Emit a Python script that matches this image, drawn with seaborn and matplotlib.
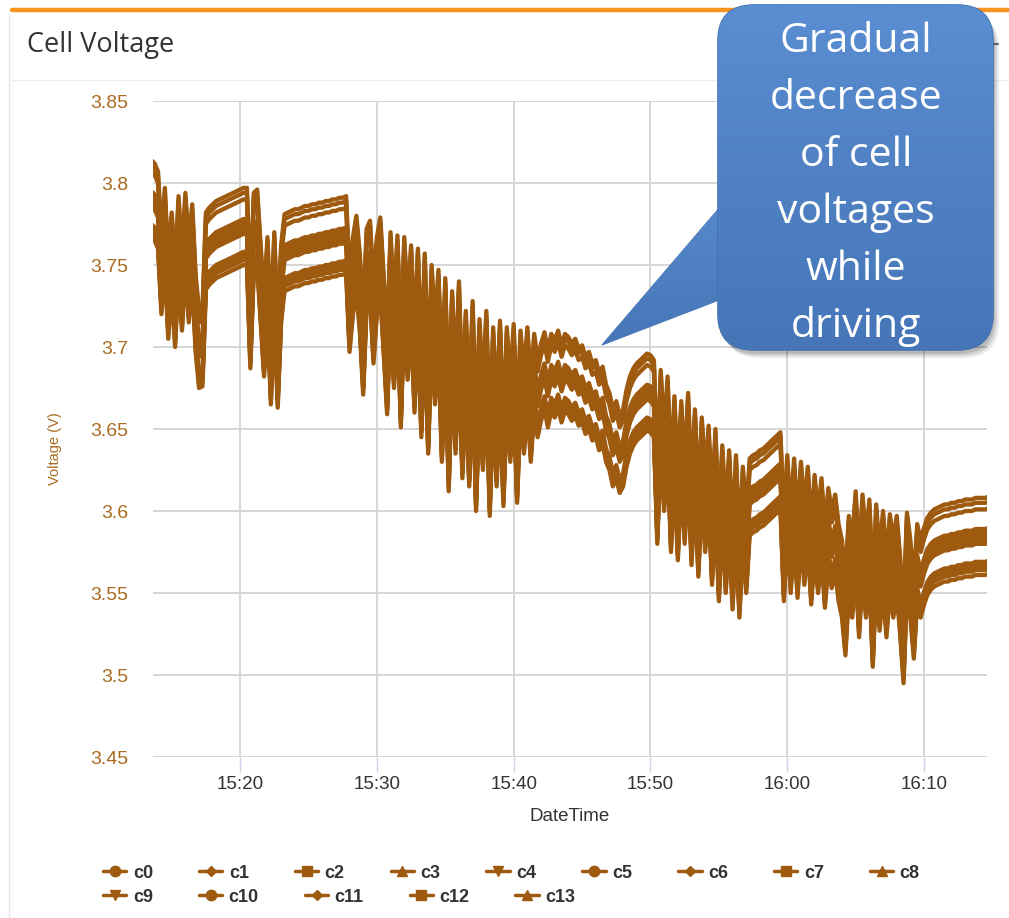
import matplotlib

matplotlib.use("Agg")
import matplotlib.pyplot as plt
from matplotlib.colors import LinearSegmentedColormap
from matplotlib.lines import Line2D
from matplotlib.patches import FancyBboxPatch, Polygon
import numpy as np
import pandas as pd
import seaborn as sns


DAY = "2021-01-01 "
START = DAY + "15:13:30"
STEP = "15s"

CELLS = [f"c{i}" for i in range(14)]
# offset of each cell from the middle group, read at rest periods
CELL_OFFSETS = [0.022, -0.002, -0.022, 0.019, 0.001, -0.019, 0.015,
                -0.004, -0.025, 0.003, -0.006, -0.017, 0.000, -0.021]

# middle-group voltage every 15 s, one row per minute
BASE_VOLTAGE = [
    3.792, 3.790,                   # 15:13
    3.785, 3.745, 3.775, 3.730,     # 15:14
    3.760, 3.725, 3.770, 3.735,     # 15:15
    3.772, 3.740, 3.765, 3.722,     # 15:16
    3.700, 3.701, 3.760, 3.763,     # 15:17
    3.765, 3.767, 3.768, 3.769,     # 15:18
    3.770, 3.771, 3.772, 3.773,     # 15:19
    3.774, 3.775, 3.775, 3.712,     # 15:20
    3.772, 3.774, 3.740, 3.707,     # 15:21
    3.745, 3.690, 3.748, 3.688,     # 15:22
    3.740, 3.759, 3.760, 3.761,     # 15:23
    3.762, 3.762, 3.763, 3.764,     # 15:24
    3.764, 3.765, 3.765, 3.766,     # 15:25
    3.766, 3.767, 3.767, 3.768,     # 15:26
    3.768, 3.769, 3.769, 3.770,     # 15:27
    3.722, 3.745, 3.758, 3.735,     # 15:28
    3.696, 3.750, 3.755, 3.715,     # 15:29
    3.745, 3.757, 3.720, 3.684,     # 15:30
    3.748, 3.700, 3.746, 3.676,     # 15:31
    3.745, 3.705, 3.740, 3.685,     # 15:32
    3.738, 3.670, 3.735, 3.660,     # 15:33
    3.728, 3.690, 3.725, 3.655,     # 15:34
    3.720, 3.637, 3.712, 3.660,     # 15:35
    3.718, 3.645, 3.700, 3.640,     # 15:36
    3.706, 3.625, 3.695, 3.650,     # 15:37
    3.700, 3.622, 3.690, 3.640,     # 15:38
    3.694, 3.628, 3.690, 3.655,     # 15:39
    3.692, 3.630, 3.688, 3.660,     # 15:40
    3.690, 3.655, 3.686, 3.670,     # 15:41
    3.680, 3.687, 3.676, 3.686,     # 15:42
    3.682, 3.688, 3.679, 3.686,     # 15:43
    3.684, 3.680, 3.683, 3.677,     # 15:44
    3.679, 3.672, 3.675, 3.668,     # 15:45
    3.670, 3.662, 3.666, 3.655,     # 15:46
    3.650, 3.640, 3.645, 3.636,     # 15:47
    3.640, 3.652, 3.660, 3.665,     # 15:48
    3.668, 3.670, 3.672, 3.674,     # 15:49
    3.673, 3.670, 3.605, 3.664,     # 15:50
    3.625, 3.660, 3.600, 3.648,     # 15:51
    3.595, 3.645, 3.605, 3.650,     # 15:52
    3.592, 3.640, 3.585, 3.635,     # 15:53
    3.600, 3.630, 3.580, 3.628,     # 15:54
    3.570, 3.618, 3.575, 3.615,     # 15:55
    3.565, 3.612, 3.560, 3.605,     # 15:56
    3.575, 3.610, 3.612, 3.613,     # 15:57
    3.615, 3.616, 3.618, 3.620,     # 15:58
    3.622, 3.624, 3.626, 3.570,     # 15:59
    3.612, 3.575, 3.610, 3.572,     # 16:00
    3.608, 3.580, 3.605, 3.568,     # 16:01
    3.600, 3.575, 3.598, 3.566,     # 16:02
    3.592, 3.578, 3.588, 3.570,     # 16:03
    3.560, 3.537, 3.575, 3.560,     # 16:04
    3.590, 3.548, 3.588, 3.560,     # 16:05
    3.585, 3.530, 3.582, 3.552,     # 16:06
    3.578, 3.548, 3.576, 3.560,     # 16:07
    3.575, 3.550, 3.520, 3.577,     # 16:08
    3.560, 3.535, 3.570, 3.560,     # 16:09
    3.568, 3.574, 3.577, 3.579,     # 16:10
    3.580, 3.581, 3.582, 3.582,     # 16:11
    3.583, 3.583, 3.584, 3.584,     # 16:12
    3.585, 3.585, 3.585, 3.586,     # 16:13
    3.586, 3.586, 3.586, 3.587,     # 16:14
]

Y_TICKS = [3.45, 3.5, 3.55, 3.6, 3.65, 3.7, 3.75, 3.8, 3.85]
Y_TICK_LABELS = ["3.45", "3.5", "3.55", "3.6", "3.65", "3.7", "3.75", "3.8", "3.85"]
X_TICKS = ["15:20", "15:30", "15:40", "15:50", "16:00", "16:10"]
X_LIMITS = ["15:13:38", "16:14:36"]
LEGEND_MARKERS = ["o", "D", "s", "^", "v"]
CALLOUT_LINES = ["Gradual", "decrease", "of cell", "voltages", "while", "driving"]

LINE = "#9e5a0e"
AXIS_TEXT = "#a96b1e"
W, H = 1009, 918


def build_frame():
    times = pd.date_range(START, periods=len(BASE_VOLTAGE), freq=STEP)
    base = np.array(BASE_VOLTAGE)
    frames = [
        pd.DataFrame({"DateTime": times, "Voltage": base + off, "cell": cell})
        for cell, off in zip(CELLS, CELL_OFFSETS)
    ]
    return pd.concat(frames, ignore_index=True)


def draw_callout(over):
    cmap = LinearSegmentedColormap.from_list("callout", ["#4676b8", "#4f81c3", "#5a8dd2"])
    grad = np.linspace(1, 0, 256).reshape(-1, 1)

    for dx, dy, alpha in [(6, 8, 0.08), (4, 6, 0.10), (2, 4, 0.12)]:
        shadow = FancyBboxPatch((718 + dx, 5 + dy), 275, 345,
                                boxstyle="round,pad=0,rounding_size=36",
                                facecolor="black", edgecolor="none", alpha=alpha, zorder=2)
        over.add_patch(shadow)

    wedge = Polygon([(602, 345), (745, 178), (745, 290)], closed=True,
                    facecolor="#4f81c3", edgecolor="#4a7bbd", linewidth=0.8, zorder=3)
    over.add_patch(wedge)
    im = over.imshow(grad, extent=(600, 746, 347, 176), cmap=cmap, aspect="auto", zorder=3)
    im.set_clip_path(wedge)

    box = FancyBboxPatch((718, 5), 275, 345, boxstyle="round,pad=0,rounding_size=36",
                         facecolor="#4f81c3", edgecolor="#4271b0", linewidth=1.2, zorder=4)
    over.add_patch(box)
    im = over.imshow(grad, extent=(718, 993, 350, 5), cmap=cmap, aspect="auto", zorder=4)
    im.set_clip_path(box)

    baselines = [52, 109, 166, 223, 280, 337]
    for text, y in zip(CALLOUT_LINES, baselines):
        over.text(856, y, text, ha="center", va="baseline", fontsize=29.5,
                  color="white", family="Open Sans", zorder=5)


def main():
    sns.set_theme(style="whitegrid")
    plt.rcParams["font.family"] = ["Liberation Sans", "DejaVu Sans"]

    data = build_frame()

    fig = plt.figure(figsize=(W / 100, H / 100), dpi=100, facecolor="white")

    # panel chrome
    bg = fig.add_axes([0, 0, 1, 1], zorder=0)
    bg.set_xlim(0, W)
    bg.set_ylim(H, 0)
    bg.axis("off")
    bg.plot([9, 9], [14, H], color="#e6e6e6", linewidth=1)
    bg.plot([9, W], [80, 80], color="#efefef", linewidth=1)
    bg.plot([12, W], [10, 10], color="#f7941d", linewidth=3.2, solid_capstyle="round")
    bg.text(27, 45, "Cell Voltage", ha="left", va="center", fontsize=19.5,
            color="#333333", family="Open Sans")
    bg.plot([989, 998], [44, 44], color="#777777", linewidth=1.5)

    ax = fig.add_axes([153 / W, 1 - 757 / H, 834 / W, 656 / H], zorder=1)
    sns.lineplot(data=data, x="DateTime", y="Voltage", hue="cell",
                 palette=[LINE] * len(CELLS), estimator=None, sort=False,
                 legend=False, linewidth=3.1, ax=ax)

    ax.set_ylim(Y_TICKS[0], Y_TICKS[-1])
    ax.set_yticks(Y_TICKS)
    ax.set_yticklabels(Y_TICK_LABELS)
    ax.set_xlim(pd.Timestamp(DAY + X_LIMITS[0]), pd.Timestamp(DAY + X_LIMITS[1]))
    ax.set_xticks([pd.Timestamp(DAY + t) for t in X_TICKS])
    ax.set_xticklabels(X_TICKS)

    ax.set_facecolor("white")
    for spine in ax.spines.values():
        spine.set_visible(False)
    ax.grid(True, color="#d6d6d6", linewidth=1.4)
    ax.tick_params(axis="y", length=0, pad=18, labelsize=14, labelcolor=AXIS_TEXT)
    ax.tick_params(axis="x", length=11, width=1, color="#ccd6eb", pad=3,
                   labelsize=13.5, labelcolor="#333333", bottom=True)

    ax.set_ylabel("Voltage (V)", fontsize=10.5, color=AXIS_TEXT)
    ax.yaxis.set_label_coords(-0.109, 0.47)
    ax.set_xlabel("DateTime", fontsize=13.5, color="#333333")
    ax.xaxis.set_label_coords(0.5, -0.078)

    over = fig.add_axes([0, 0, 1, 1], zorder=2)
    over.patch.set_alpha(0)
    draw_callout(over)

    handles = [
        Line2D([], [], color=LINE, marker=LEGEND_MARKERS[i % len(LEGEND_MARKERS)],
               markersize=5.5 if LEGEND_MARKERS[i % 5] == "D" else 7.5,
               linewidth=2.5, label=cell)
        for i, cell in enumerate(CELLS)
    ]
    legend_kw = dict(loc="center left", frameon=False, borderpad=0, borderaxespad=0,
                     handlelength=1.3, handletextpad=0.35, columnspacing=2.55,
                     prop={"family": "Liberation Sans", "weight": "bold", "size": 13},
                     labelcolor="#333333", bbox_transform=over.transData)
    first = over.legend(handles=handles[:9], ncol=9, bbox_to_anchor=(103, 873), **legend_kw)
    over.add_artist(first)
    over.legend(handles=handles[9:], ncol=5, bbox_to_anchor=(103, 897), **legend_kw)

    over.set_xlim(0, W)
    over.set_ylim(H, 0)
    over.axis("off")

    fig.savefig("out.png", dpi=100, facecolor="white")
    plt.close(fig)


if __name__ == "__main__":
    main()
